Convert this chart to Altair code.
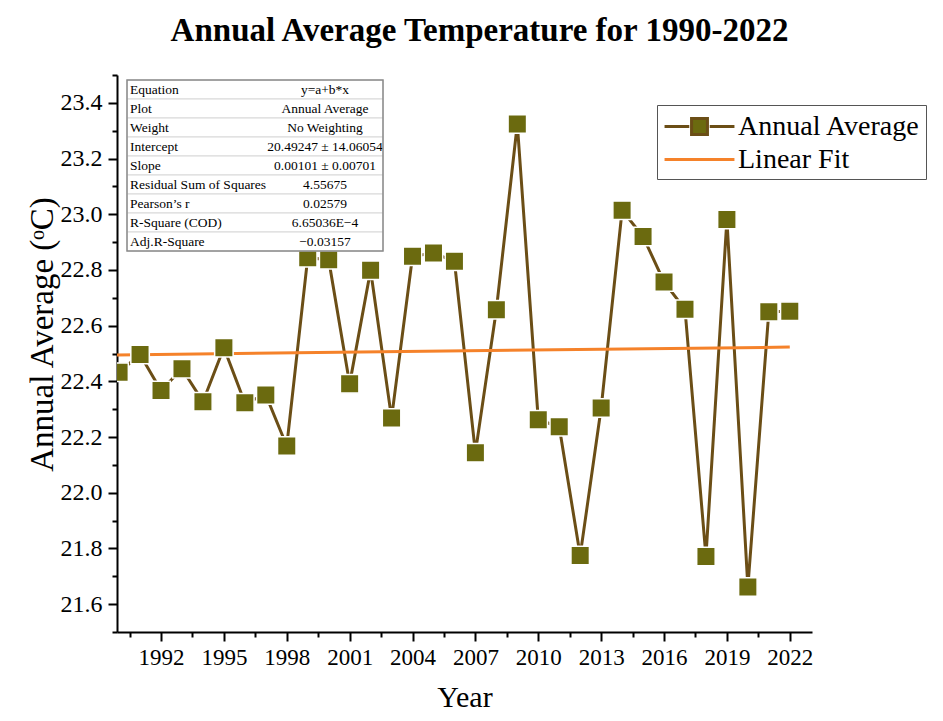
import altair as alt
import pandas as pd

# ---------------- data ----------------
years = list(range(1990, 2023))
temps = [22.433, 22.496, 22.367, 22.445, 22.327, 22.521, 22.323, 22.351, 22.168,
         22.844, 22.837, 22.391, 22.799, 22.268, 22.849, 22.861, 22.831, 22.144,
         22.657, 23.324, 22.262, 22.237, 21.775, 22.304, 23.014, 22.920, 22.757,
         22.659, 21.771, 22.981, 21.662, 22.650, 22.652]
series_names = ["Annual Average", "Linear Fit"]
fit_years = [1989.9, 2022]
fit_temps = [22.495, 22.523]

table_labels = ["Equation", "Plot", "Weight", "Intercept", "Slope",
                "Residual Sum of Squares", "Pearson\u2019s r", "R-Square (COD)", "Adj.R-Square"]
table_values = ["y=a+b*x", "Annual Average", "No Weighting", "20.49247 \u00b1 14.06054",
                "0.00101 \u00b1 0.00701", "4.55675", "0.02579", "6.65036E\u22124", "\u22120.03157"]

x_major = [1992, 1995, 1998, 2001, 2004, 2007, 2010, 2013, 2016, 2019, 2022]
x_minor = [1990.5, 1993.5, 1996.5, 1999.5, 2002.5, 2005.5, 2008.5, 2011.5, 2014.5, 2017.5, 2020.5]
y_major = [21.6, 21.8, 22.0, 22.2, 22.4, 22.6, 22.8, 23.0, 23.2, 23.4]
y_minor = [21.5, 21.7, 21.9, 22.1, 22.3, 22.5, 22.7, 22.9, 23.1, 23.3, 23.5]

# ---------------- styling ----------------
FONT = "Liberation Serif"
BROWN = "#6B4E16"
OLIVE = "#6B6A0F"
ORANGE = "#F5822A"
W, H = 695, 557

main_df = pd.DataFrame({"Year": years, "Temp": temps, "Series": series_names[0]})
fit_df = pd.DataFrame({"Year": fit_years, "Temp": fit_temps, "Series": series_names[1]})
legend_df = pd.DataFrame({"Series": series_names})
table_df = pd.DataFrame({"row": list(range(len(table_labels))),
                         "label": table_labels, "value": table_values})

x_scale = alt.Scale(domain=[1989.9, 2023.06], nice=False, zero=False)
y_scale = alt.Scale(domain=[21.5, 23.5], nice=False, zero=False)
stroke_scale = alt.Scale(domain=series_names, range=[BROWN, ORANGE])
fill_scale = alt.Scale(domain=series_names, range=[OLIVE, "transparent"])
# legend glyphs: line - square - line, and a plain line (unit = 15px at size 900)
path_avg = "M-2.33,0H-0.68M0.68,0H2.33M-0.53,-0.53H0.53V0.53H-0.53Z"
path_fit = "M-2.33,0H2.33"
shape_scale = alt.Scale(domain=series_names, range=[path_avg, path_fit])

legend = alt.Legend(title=None, orient="none", legendX=540, legendY=30,
                    symbolSize=900, symbolStrokeWidth=3, symbolOffset=21,
                    labelOffset=22, strokeColor="#555555", fillColor="white",
                    padding=5, rowPadding=2, labelLimit=0)

major_x_axis = alt.Axis(values=x_major, format="d", title="Year", grid=False,
                        orient="bottom", tickSize=9, labelPadding=5, titlePadding=13,
                        labelFontSize=23, titleFontSize=30)
major_y_axis = alt.Axis(values=y_major, format=".1f", title="Annual Average (\u1d52C)",
                        orient="left", grid=False, tickSize=9, labelPadding=6,
                        titlePadding=1, labelFontSize=24, titleFontSize=33, titleY=259)
minor_x_axis = alt.Axis(values=x_minor, labels=False, domain=False, title=None,
                        orient="bottom", grid=False, tickSize=5)
minor_y_axis = alt.Axis(values=y_minor, labels=False, domain=False, title=None,
                        orient="left", grid=False, tickSize=5)

line = alt.Chart(main_df).mark_line(strokeWidth=3, clip=True).encode(
    x=alt.X("Year:Q", scale=x_scale, axis=major_x_axis),
    y=alt.Y("Temp:Q", scale=y_scale, axis=major_y_axis),
    stroke=alt.Stroke("Series:N", scale=stroke_scale, legend=legend),
)

fit = alt.Chart(fit_df).mark_line(strokeWidth=3, clip=True).encode(
    x=alt.X("Year:Q", scale=x_scale, axis=None),
    y=alt.Y("Temp:Q", scale=y_scale, axis=None),
    stroke=alt.Stroke("Series:N", scale=stroke_scale, legend=legend),
)

points = alt.Chart(main_df).mark_point(shape="square", filled=True, fill=OLIVE,
                                       size=342, stroke="white", strokeWidth=1.5,
                                       opacity=1, clip=True).encode(
    x=alt.X("Year:Q", scale=x_scale, axis=minor_x_axis),
    y=alt.Y("Temp:Q", scale=y_scale, axis=minor_y_axis),
)

legend_layer = alt.Chart(legend_df).transform_filter("false").mark_point(
    filled=True, opacity=1, strokeWidth=3).encode(
    stroke=alt.Stroke("Series:N", scale=stroke_scale, legend=legend),
    fill=alt.Fill("Series:N", scale=fill_scale, legend=legend),
    shape=alt.Shape("Series:N", scale=shape_scale, legend=legend),
)

main = alt.layer(line, fit, points, legend_layer).resolve_axis(x="independent", y="independent")

row_scale = alt.Scale(type="band", range=[5, 176], paddingInner=0, paddingOuter=0)
tbase = alt.Chart(table_df)
row_rects = tbase.mark_rect(fill="white", stroke="#d8d8d8", strokeWidth=1).encode(
    y=alt.Y("row:O", scale=row_scale, axis=None),
    x=alt.value(10), x2=alt.value(266),
)
label_text = tbase.mark_text(align="left", baseline="middle", font=FONT, fontSize=13.5,
                             color="black").encode(
    y=alt.Y("row:O", scale=row_scale, axis=None, bandPosition=0.5),
    x=alt.value(13), text="label:N",
)
value_text = tbase.mark_text(align="center", baseline="middle", font=FONT, fontSize=13.5,
                             color="black").encode(
    y=alt.Y("row:O", scale=row_scale, axis=None, bandPosition=0.5),
    x=alt.value(208), text="value:N",
)
outer_box = alt.Chart(pd.DataFrame({"k": [0]})).mark_rect(
    fill=None, stroke="#8a8a8a", strokeWidth=1.5).encode(
    x=alt.value(10), x2=alt.value(266), y=alt.value(5), y2=alt.value(176),
)
table = alt.layer(row_rects, label_text, value_text, outer_box)

chart = alt.layer(main, table).resolve_scale(y="independent").properties(
    width=W, height=H,
    title=alt.TitleParams("Annual Average Temperature for 1990-2022", font=FONT,
                          fontSize=33, fontWeight="bold", color="black",
                          anchor="middle", dx=15, offset=26),
    autosize=alt.AutoSizeParams(type="none"),
    padding={"left": 109, "top": 67, "right": 123, "bottom": 81},
).configure_view(stroke=None).configure_axis(
    domainColor="black", domainWidth=2, tickColor="black", tickWidth=2,
    labelFont=FONT, labelColor="black",
    titleFont=FONT, titleFontWeight="normal", titleColor="black",
).configure_legend(
    labelFont=FONT, labelFontSize=28, labelColor="black", labelLimit=0,
)

chart.save("out.html", embed_options={"renderer": "svg", "actions": False})
